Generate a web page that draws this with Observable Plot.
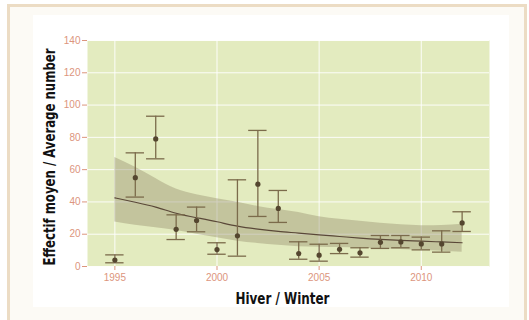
<!DOCTYPE html>
<html>
<head>
<meta charset="utf-8">
<script src="https://cdn.jsdelivr.net/npm/d3@7"></script>
<script src="https://cdn.jsdelivr.net/npm/@observablehq/plot@0.6"></script>
<style>
  html, body { margin: 0; padding: 0; background: #ffffff; }
  #wrap { position: relative; width: 529px; height: 320px; overflow: hidden; }
  #box { position: absolute; left: 7px; top: 4px; width: 514px; height: 340px;
         border: 3px solid #ecdcc4; background: #fcfaf5; }
  #sheet { position: absolute; left: 33px; top: 15px; width: 476px; height: 292px; background: #ffffff; }
  #chart { position: absolute; left: 0; top: 0; }
  #chart g[aria-label="text"] text { font-stretch: condensed; }
</style>
</head>
<body>
<div id="wrap">
  <div id="box"></div>
  <div id="sheet"></div>
  <div id="chart"></div>
</div>
<script>
// Mean winter counts with their intervals
const years = [1995, 1996, 1997, 1998, 1999, 2000, 2001, 2002, 2003, 2004, 2005, 2006, 2007, 2008, 2009, 2010, 2011, 2012];
const means = [4, 55, 79, 23, 28.5, 10.5, 19, 51, 36, 8, 7, 10.7, 8.5, 15, 15.2, 14, 14, 27];
const lows  = [2.3, 43, 66.7, 16.7, 21.5, 7.6, 6.4, 31, 27.3, 4.5, 3.3, 8, 5.8, 11.2, 11.6, 10.3, 8.9, 21.7];
const highs = [7.2, 70.4, 93.1, 32, 36.8, 14.7, 53.7, 84.3, 47.1, 15.3, 13.8, 14.3, 11.6, 19.2, 19.2, 18.2, 22.1, 33.9];

// Fitted trend and its confidence band
const fit   = [42.5, 39.8, 36.8, 33, 30.2, 27.7, 25, 23.1, 21.7, 20.7, 19.6, 18.6, 17.6, 16.8, 16.2, 15.7, 15.2, 14.7];
const upper = [67.5, 61.5, 54.5, 48, 44.5, 42, 39.8, 37.2, 35.3, 33.4, 30.8, 29.3, 28, 26.8, 25.8, 25.2, 25.4, 26.2];
const lower = [27.5, 25.5, 24, 22.3, 20, 17.8, 15.7, 14.3, 13.1, 12.3, 12, 11.8, 11.5, 11, 10.5, 10, 9.5, 8.9];

// Axis ticks and titles
const xTicks = [1995, 2000, 2005, 2010];
const yTicks = [0, 20, 40, 60, 80, 100, 120, 140];
const xTitle = "Hiver / Winter";
const yTitle = "Effectif moyen / Average number";

const obs = years.map((year, i) => ({year, mean: means[i], lo: lows[i], hi: highs[i]}));
const trend = years.map((year, i) => ({year, fit: fit[i], upper: upper[i], lower: lower[i]}));

const tickColor = "#dc957d";
const barColor = "#7b6b4b";
const capHalf = 0.45;
const titleFont = "'DejaVu Sans Condensed', 'Liberation Sans Narrow', 'DejaVu Sans', sans-serif";

const chart = Plot.plot({
  width: 529,
  height: 320,
  marginLeft: 87,
  marginRight: 40,
  marginTop: 40,
  marginBottom: 54,
  style: {background: "transparent", fontFamily: "'Liberation Sans', Arial, sans-serif", fontSize: "10px"},
  x: {domain: [1993.66, 2013.34], ticks: xTicks},
  y: {domain: [0, 140], ticks: yTicks},
  marks: [
    Plot.frame({fill: "#e3ebbf", stroke: null}),
    Plot.gridX({ticks: xTicks, stroke: "#ffffff", strokeOpacity: 0.9, strokeWidth: 1}),
    Plot.gridY({ticks: yTicks, stroke: "#ffffff", strokeOpacity: 0.9, strokeWidth: 1}),
    Plot.axisX({ticks: xTicks, tickFormat: d => String(d), tickSize: 4, tickPadding: 3, color: tickColor, label: null}),
    Plot.axisY({ticks: yTicks, tickSize: 5, tickPadding: 2, color: tickColor, label: null}),
    Plot.areaY(trend, {x: "year", y1: "lower", y2: "upper", fill: "#978e6e", fillOpacity: 0.42, curve: "natural"}),
    Plot.line(trend, {x: "year", y: "fit", stroke: "#5a4838", strokeWidth: 1.2, curve: "natural"}),
    Plot.ruleX(obs, {x: "year", y1: "lo", y2: "hi", stroke: barColor, strokeWidth: 1.3}),
    Plot.ruleY(obs, {y: "lo", x1: d => d.year - capHalf, x2: d => d.year + capHalf, stroke: barColor, strokeWidth: 1.3}),
    Plot.ruleY(obs, {y: "hi", x1: d => d.year - capHalf, x2: d => d.year + capHalf, stroke: barColor, strokeWidth: 1.3}),
    Plot.dot(obs, {x: "year", y: "mean", r: 2.6, fill: "#54462f", stroke: null}),
    Plot.text([xTitle], {frameAnchor: "bottom", textAnchor: "middle", dx: -6, dy: 37, fontSize: 16, fontWeight: "bold", fill: "#111111", fontFamily: titleFont}),
    Plot.text([yTitle], {frameAnchor: "left", textAnchor: "middle", rotate: -90, dx: -38, dy: 3.5, fontSize: 16, fontWeight: "bold", fill: "#111111", fontFamily: titleFont})
  ]
});

// Squeeze the axis titles to a narrow, condensed width
const titleLengths = [94, 217];
d3.select(chart).selectAll('g[aria-label="text"] text').each(function(d, i) {
  d3.select(this).attr("textLength", titleLengths[i]).attr("lengthAdjust", "spacingAndGlyphs");
});

document.getElementById("chart").appendChild(chart);
</script>
</body>
</html>
